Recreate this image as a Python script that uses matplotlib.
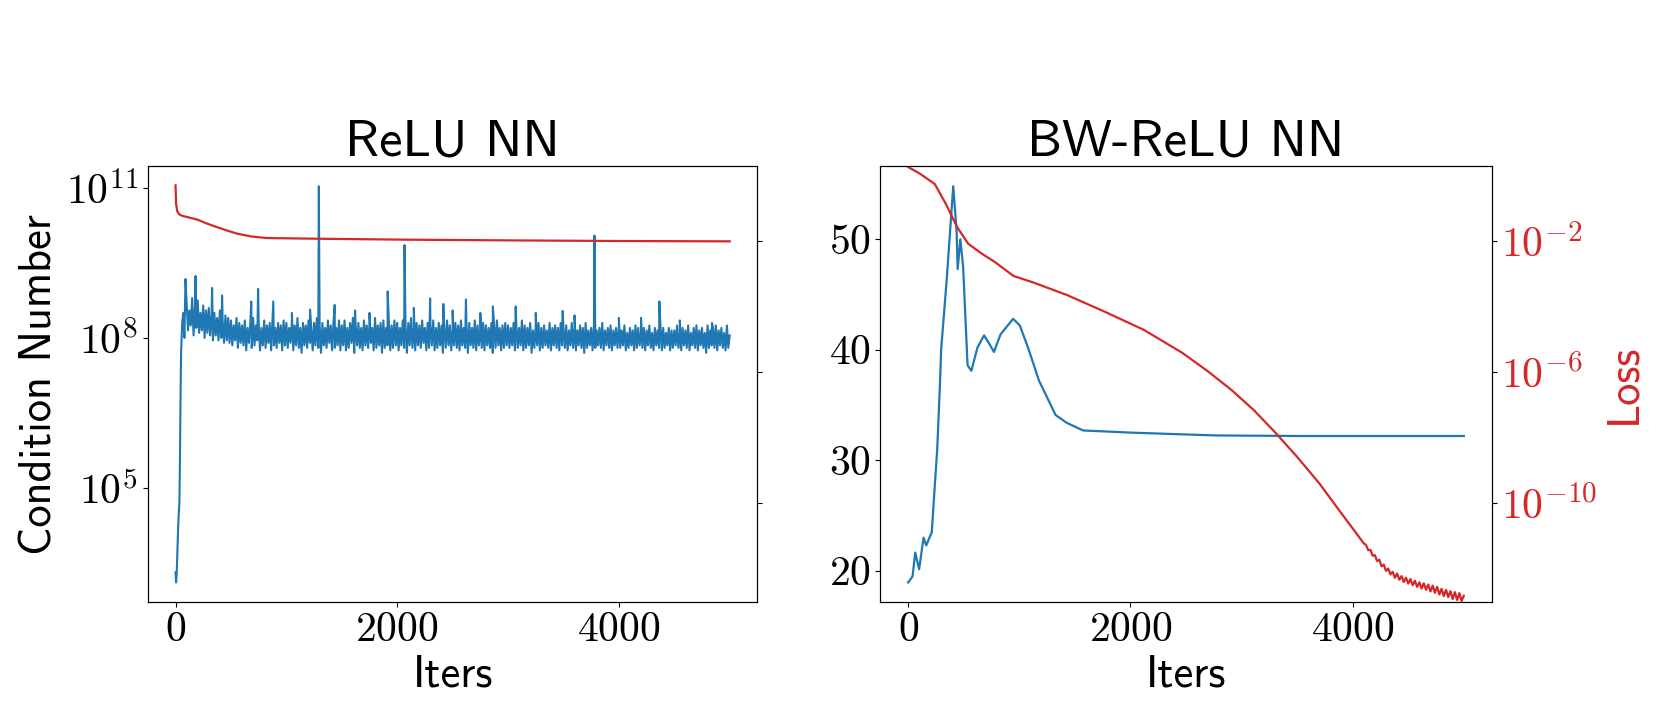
import numpy as np
import matplotlib
matplotlib.use('Agg')
import matplotlib.pyplot as plt
from matplotlib.ticker import FuncFormatter, FixedLocator, NullLocator

plt.rcParams['font.family'] = 'cmss10'
plt.rcParams['mathtext.fontset'] = 'cm'
plt.rcParams['axes.unicode_minus'] = False

# ---- ReLU NN: condition number (log10) ----
relu_start_iters = [0, 5, 10, 15, 20, 25, 30, 35, 40, 45, 50, 55, 60, 70, 80]
relu_start_log = [3.3, 3.1, 3.25, 3.6, 3.9, 4.3, 4.5, 4.7, 5.6, 6.8, 7.7, 8.0, 8.3, 8.5, 8.0]

# noisy band: upper / lower value in each 25-iter bin from 100 to 5000
relu_band_hi = [
    8.70, 8.55, 8.80, 8.60, 8.75, 8.50, 8.65, 8.55, 8.60, 8.45, 8.50, 8.40, 8.55, 8.35, 8.45, 8.40,
    8.35, 8.25, 8.40, 8.30, 8.25, 8.35, 8.20, 8.30, 8.40, 8.25, 8.30, 8.20, 8.35, 8.25, 8.30, 8.40, 8.20, 8.30, 8.25, 8.35,
    8.30, 8.20, 8.35, 8.25, 8.40, 8.20, 8.30, 8.25, 8.35, 8.20, 8.30, 8.40, 8.25, 8.30, 8.20, 8.35, 8.25, 8.30, 8.20, 8.35,
    8.25, 8.35, 8.20, 8.30, 8.40, 8.25, 8.30, 8.20, 8.35, 8.25, 8.30, 8.20, 8.40, 8.25, 8.30, 8.35, 8.20, 8.30, 8.25, 8.35,
    8.30, 8.20, 8.35, 8.25, 8.30, 8.40, 8.20, 8.30, 8.25, 8.35, 8.20, 8.30, 8.25, 8.35, 8.20, 8.30, 8.25, 8.20, 8.35, 8.25,
    8.20, 8.30, 8.25, 8.35, 8.20, 8.25, 8.30, 8.20, 8.35, 8.25, 8.20, 8.30, 8.25, 8.20, 8.30, 8.25, 8.35, 8.20, 8.25, 8.30,
    8.25, 8.20, 8.30, 8.25, 8.20, 8.35, 8.25, 8.20, 8.30, 8.15, 8.25, 8.30, 8.20, 8.25, 8.15, 8.30, 8.20, 8.25, 8.20, 8.30,
    8.20, 8.25, 8.15, 8.30, 8.20, 8.15, 8.25, 8.20, 8.30, 8.15, 8.20, 8.25, 8.15, 8.20, 8.30, 8.15, 8.20, 8.25, 8.15, 8.20,
    8.20, 8.15, 8.25, 8.10, 8.20, 8.15, 8.25, 8.20, 8.10, 8.20, 8.15, 8.25, 8.10, 8.20, 8.15, 8.25, 8.20, 8.10, 8.20, 8.15,
    8.15, 8.25, 8.10, 8.20, 8.15, 8.25, 8.10, 8.20, 8.25, 8.15, 8.20, 8.10, 8.25, 8.15, 8.20, 8.25, 8.15, 8.20, 8.10, 8.25,
    8.05,
]
relu_band_lo = [
    8.15, 8.25, 8.05, 8.20, 8.10, 8.15, 8.00, 8.10, 8.05, 7.95, 8.05, 7.95, 8.00, 7.90, 7.95, 7.90,
    7.85, 7.95, 7.80, 7.90, 7.85, 7.75, 7.90, 7.80, 7.85, 7.95, 7.75, 7.85, 7.80, 7.90, 7.75, 7.85, 7.80, 7.90, 7.75, 7.85,
    7.80, 7.90, 7.75, 7.85, 7.80, 7.70, 7.85, 7.80, 7.90, 7.75, 7.85, 7.80, 7.70, 7.85, 7.80, 7.90, 7.75, 7.80, 7.85, 7.75,
    7.85, 7.75, 7.80, 7.90, 7.70, 7.85, 7.80, 7.75, 7.85, 7.80, 7.90, 7.75, 7.80, 7.85, 7.70, 7.80, 7.85, 7.75, 7.80, 7.85,
    7.75, 7.85, 7.80, 7.70, 7.85, 7.80, 7.75, 7.85, 7.80, 7.90, 7.75, 7.80, 7.85, 7.75, 7.80, 7.85, 7.70, 7.80, 7.85, 7.75,
    7.85, 7.80, 7.75, 7.85, 7.80, 7.70, 7.85, 7.80, 7.75, 7.85, 7.80, 7.75, 7.85, 7.80, 7.70, 7.80, 7.85, 7.75, 7.80, 7.85,
    7.80, 7.85, 7.75, 7.80, 7.85, 7.75, 7.80, 7.85, 7.70, 7.80, 7.85, 7.75, 7.80, 7.85, 7.80, 7.75, 7.85, 7.80, 7.75, 7.85,
    7.80, 7.75, 7.85, 7.80, 7.75, 7.85, 7.80, 7.70, 7.80, 7.85, 7.75, 7.80, 7.85, 7.80, 7.75, 7.85, 7.80, 7.75, 7.85, 7.80,
    7.80, 7.85, 7.75, 7.80, 7.85, 7.75, 7.80, 7.85, 7.80, 7.75, 7.85, 7.80, 7.75, 7.85, 7.80, 7.75, 7.80, 7.85, 7.75, 7.80,
    7.85, 7.80, 7.75, 7.85, 7.80, 7.75, 7.85, 7.80, 7.75, 7.85, 7.80, 7.70, 7.80, 7.85, 7.80, 7.75, 7.85, 7.80, 7.75, 7.80,
    7.90,
]
relu_band_iters = np.arange(100, 5001, 25)

# isolated spikes
relu_spike_iters = [90, 180, 330, 420, 683, 745, 882, 1050, 1214, 1293, 1436, 1620, 1750, 1914, 2066, 2150,
                    2297, 2416, 2500, 2620, 2750, 2863, 3069, 3250, 3493, 3600, 3780, 4000, 4200, 4365, 4550, 4840]
relu_spike_log = [9.18, 9.24, 9.0, 8.85, 8.73, 8.98, 8.73, 8.5, 8.57, 11.04, 8.66, 8.55, 8.5, 8.93, 9.86, 8.6,
                  8.79, 8.68, 8.55, 8.77, 8.5, 8.63, 8.63, 8.5, 8.54, 8.45, 10.05, 8.4, 8.4, 8.73, 8.35, 8.3]

# ReLU NN: loss (log10)
relu_loss_iters = [0, 5, 15, 35, 60, 120, 200, 270, 360, 455, 560, 683, 823, 1283, 2111, 3000, 4000, 5000]
relu_loss_log = [-0.29, -0.85, -1.08, -1.18, -1.22, -1.27, -1.34, -1.44, -1.55, -1.66, -1.77, -1.85, -1.90,
                 -1.92, -1.95, -1.97, -1.99, -2.0]

# ---- BW-ReLU NN ----
bw_cond_iters = [0, 40, 64, 99, 139, 163, 213, 238, 262, 287, 297, 347, 406, 436, 446, 470, 495, 535, 569,
                 624, 683, 733, 772, 832, 945, 1005, 1079, 1178, 1327, 1426, 1574, 2020, 2762, 3505, 5000]
bw_cond = [18.95, 19.5, 21.65, 20.15, 23.0, 22.3, 23.5, 27.4, 31.0, 37.0, 40.0, 46.3, 54.8, 50.8, 47.3, 50.0,
           47.5, 38.6, 38.1, 40.2, 41.3, 40.5, 39.8, 41.4, 42.8, 42.2, 40.2, 37.2, 34.1, 33.4, 32.7, 32.5,
           32.25, 32.2, 32.2]

bw_loss_iters = [0, 100, 240, 340, 440, 540, 660, 780, 950, 1130, 1430, 1770, 2120, 2470, 2710, 2910,
                 3110, 3310, 3500, 3700, 3900]
bw_loss_log = [0.27, 0.08, -0.25, -0.86, -1.56, -2.07, -2.37, -2.63, -3.06, -3.26, -3.64, -4.15, -4.70,
               -5.41, -6.0, -6.54, -7.15, -7.86, -8.58, -9.39, -10.31]
# noisy tail, every 20 iters from 4100 to 5000
bw_tail_log = [
    -11.22, -11.27, -11.43, -11.42, -11.60, -11.58, -11.76, -11.72, -11.92, -11.87,
    -12.06, -11.99, -12.17, -12.09, -12.27, -12.14, -12.33, -12.22, -12.40, -12.27,
    -12.45, -12.31, -12.50, -12.36, -12.55, -12.41, -12.60, -12.44, -12.64, -12.48,
    -12.69, -12.51, -12.73, -12.55, -12.78, -12.61, -12.83, -12.64, -12.86, -12.68,
    -12.92, -12.71, -12.95, -12.74, -12.98, -12.82,
]
bw_tail_iters = np.arange(4100, 5001, 20)

blue = '#1f77b4'
red = '#d62728'
fs = 32
tick_fs = 30

log_fmt = FuncFormatter(lambda v, p: r'$10^{%d}$' % round(np.log10(v)))
lin_fmt = FuncFormatter(lambda v, p: r'$%d$' % round(v))
loss_lim = (10 ** -13.02, 10 ** 0.29)

fig = plt.figure(figsize=(16.61, 7.17), dpi=100)
ax1 = fig.add_axes([0.089, 0.160, 0.367, 0.608])
ax2 = fig.add_axes([0.530, 0.160, 0.368, 0.608])

# left panel: band drawn as top/bottom of each bin, then spikes merged in
bx = np.ravel(np.column_stack([relu_band_iters, relu_band_iters + 12.5]))
by = np.ravel(np.column_stack([relu_band_hi, relu_band_lo]))
x = np.concatenate([relu_start_iters, bx, relu_spike_iters])
y = np.concatenate([relu_start_log, by, relu_spike_log])
order = np.argsort(x, kind='stable')
keep = x[order] <= 5000
ax1.plot(x[order][keep], 10 ** y[order][keep], color=blue, lw=1.5)
ax1.set_yscale('log')
ax1.yaxis.set_major_locator(FixedLocator([1e5, 1e8, 1e11]))
ax1.yaxis.set_minor_locator(NullLocator())
ax1.yaxis.set_major_formatter(log_fmt)
ax1.set_title('ReLU NN', fontsize=38, pad=8)
ax1.set_ylabel('Condition Number', fontsize=fs)

ax1b = ax1.twinx()
ax1b.plot(relu_loss_iters, 10 ** np.array(relu_loss_log), color=red, lw=1.6)
ax1b.set_yscale('log')
ax1b.set_ylim(*loss_lim)
ax1b.yaxis.set_major_locator(FixedLocator([1e-10, 1e-6, 1e-2]))
ax1b.yaxis.set_minor_locator(NullLocator())
ax1b.tick_params(axis='y', labelright=False)

# right panel
ax2.plot(bw_cond_iters, bw_cond, color=blue, lw=1.6)
ax2.set_yticks([20, 30, 40, 50])
ax2.yaxis.set_major_formatter(lin_fmt)
ax2.set_title('BW-ReLU NN', fontsize=38, pad=8)

ax2b = ax2.twinx()
lx = np.concatenate([bw_loss_iters, bw_tail_iters])
ly = np.concatenate([bw_loss_log, bw_tail_log])
ax2b.plot(lx, 10 ** ly, color=red, lw=1.6)
ax2b.set_yscale('log')
ax2b.set_ylim(*loss_lim)
ax2b.yaxis.set_major_locator(FixedLocator([1e-10, 1e-6, 1e-2]))
ax2b.yaxis.set_minor_locator(NullLocator())
ax2b.yaxis.set_major_formatter(log_fmt)
ax2b.tick_params(axis='y', labelcolor=red, labelsize=tick_fs)
ax2b.set_ylabel('Loss', color=red, fontsize=fs)

for ax in (ax1, ax2):
    ax.set_xlim(-250, 5250)
    ax.set_xticks([0, 2000, 4000])
    ax.xaxis.set_major_formatter(lin_fmt)
    ax.set_xlabel('Iters', fontsize=fs)
    ax.tick_params(labelsize=tick_fs)

fig.savefig('out.png', dpi=100)
